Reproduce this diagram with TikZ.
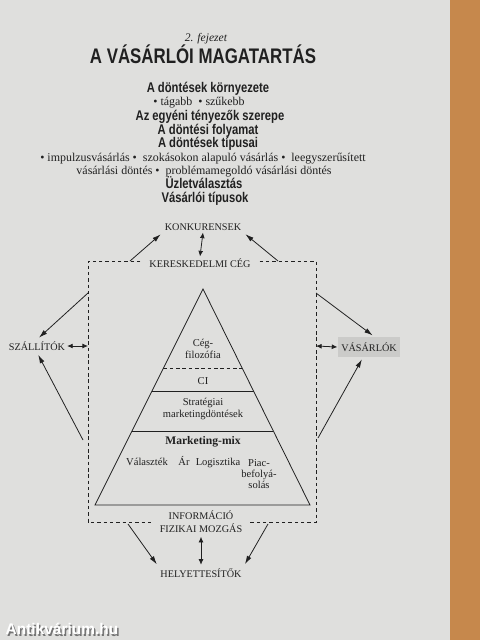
\documentclass[tikz,border=0pt]{standalone}
\usepackage{fontspec}
\setmainfont{Liberation Serif}
\newfontfamily\condfont[FakeStretch=0.8]{Liberation Sans}
\newfontfamily\wmfont{Liberation Sans}
\usetikzlibrary{arrows.meta,calc}

\definecolor{pagegray}{RGB}{223,223,221}
\definecolor{wood}{RGB}{198,136,76}
\definecolor{ink}{RGB}{32,32,32}
\definecolor{marker}{RGB}{203,203,201}

\tikzset{
  hd/.style={font=\condfont\bfseries\fontsize{8}{9}\selectfont, text=ink, inner sep=0pt, anchor=base},
  tx/.style={font=\fontsize{6.8}{8}\selectfont, text=ink, inner sep=0pt, anchor=base},
  lbl/.style={font=\fontsize{5.8}{7.4}\selectfont, text=ink, inner sep=1pt, align=center},
  pyr/.style={font=\fontsize{6}{6.8}\selectfont, text=ink, align=center, inner sep=0pt},
  arr/.style={-{Latex[length=4.8pt,width=2.8pt]}, line width=0.45pt, draw=ink, shorten >=1.5pt},
  darr/.style={{Latex[length=3.2pt,width=2.8pt]}-{Latex[length=3.2pt,width=2.8pt]}, line width=0.45pt, draw=ink},
  cegframe/.style={dash pattern=on 2pt off 1.6pt, line width=0.45pt, draw=ink},
}

\begin{document}
\begin{tikzpicture}[x=0.02cm, y=-0.02cm]
            % page and desk
            \fill[pagegray] (0,0) rectangle (480,640);
            \fill[wood] (450,0) rectangle (480,640);
            \useasboundingbox (0,0) rectangle (480,640);

            % chapter heading
            \node[tx, font=\itshape\fontsize{6.6}{8}\selectfont] (fejezet) at (206,41) {2. fejezet};
            \node[hd, font=\condfont\bfseries\fontsize{12}{14}\selectfont] (cim) at (203,63) {A VÁSÁRLÓI MAGATARTÁS};

            \node[hd] (h1) at (208,92) {A döntések környezete};
            \node[tx] (h2) at (199,105) {• tágabb \ • szűkebb};
            \node[hd] (h3) at (210,120) {Az egyéni tényezők szerepe};
            \node[hd] (h4) at (208,134) {A döntési folyamat};
            \node[hd] (h5) at (208,147) {A döntések típusai};
            \node[tx] (h6) at (203,161) {• impulzusvásárlás • \ szokásokon alapuló vásárlás • \ leegyszerűsített};
            \node[tx] (h7) at (204,174) {vásárlási döntés • \ problémamegoldó vásárlási döntés};
            \node[hd] (h8) at (204,188) {Üzletválasztás};
            \node[hd] (h9) at (205,202) {Vásárlói típusok};

            % actors
            \node[lbl] (konk) at (203,227) {KONKURENSEK};
            \node[lbl, inner xsep=5pt] (keresk) at (200,263) {KERESKEDELMI CÉG};
            \node[lbl] (szall) at (37,346) {SZÁLLÍTÓK};
            \node[lbl, fill=marker, minimum height=11pt, inner xsep=2pt] (vas) at (369,347) {VÁSÁRLÓK};
            \node[lbl, inner xsep=4.5pt] (info) at (201,522) {INFORMÁCIÓ\\FIZIKAI MOZGÁS};
            \node[lbl] (hely) at (201,573) {HELYETTESÍTŐK};

            % dashed frame of the firm
            \coordinate (tl) at (88,261);
            \coordinate (tr) at (316,261);
            \coordinate (bl) at (88,522);
            \coordinate (br) at (316,522);
            \draw[cegframe] (keresk.west |- tl) -- (tl) -- (bl) -- (info.west |- bl);
            \draw[cegframe] (keresk.east |- tr) -- (tr) -- (br) -- (info.east |- br);

            \coordinate (k1) at (130,261);
            \coordinate (k2) at (278,261);
            \coordinate (l1) at (88,293);
            \coordinate (l2) at (83,440);
            \coordinate (sl) at (88,346);
            \coordinate (r1) at (316,293);
            \coordinate (r2) at (318,438);
            \coordinate (sr) at (316,346);
            \coordinate (b1) at (128,524);
            \coordinate (b2) at (268,524);

            \draw[arr] (k1) -- (konk.south west);
            \draw[arr] (k2) -- (konk.south east);
            \draw[darr] (konk.south) -- (keresk.north);

            \draw[arr] (l1) -- (szall.north);
            \draw[arr] (l2) -- (szall.south);
            \draw[darr] (szall.east) -- (sl);

            \draw[arr] (r1) -- (vas.60);
            \draw[arr] (r2) -- (vas.240);
            \draw[darr] (sr) -- (vas.west);

            \draw[arr] (b1) -- (hely.north west);
            \draw[arr] (b2) -- (hely.north east);
            \draw[darr, shorten <=1pt, shorten >=1pt] (info.south) -- (hely.north);

            % pyramid
            \coordinate (apex) at (203,289);
            \coordinate (pl) at (95,505);
            \coordinate (pr) at (310,505);
            \draw[line width=0.45pt, draw=ink] (apex) -- (pl) -- (pr) -- cycle;
            \draw[cegframe] ($(apex)!0.366!(pl)$) -- ($(apex)!0.366!(pr)$);
            \draw[line width=0.45pt, draw=ink] ($(apex)!0.472!(pl)$) -- ($(apex)!0.472!(pr)$);
            \draw[line width=0.45pt, draw=ink] ($(apex)!0.657!(pl)$) -- ($(apex)!0.657!(pr)$);

            \node[pyr] (ceg) at (203,349) {Cég-\\filozófia};
            \node[pyr] (ci) at (203,381) {CI};
            \node[pyr] (strat) at (203,409) {Stratégiai\\marketingdöntések};
            \node[pyr, font=\bfseries\fontsize{6.6}{8}\selectfont] (mmix) at (203,442) {Marketing-mix};
            \node[pyr, anchor=base] (valaszt) at (147,465) {Választék};
            \node[pyr, anchor=base] (ar) at (184,465) {Ár};
            \node[pyr, anchor=base] (logiszt) at (218,465) {Logisztika};
            \node[pyr, font=\fontsize{6}{6.2}\selectfont] (piac) at (259,474) {Piac-\\befolyá-\\solás};

            % watermark
            \node[font=\wmfont\bfseries\fontsize{8.8}{10}\selectfont, text=black!55, inner sep=0pt] (wmshadow) at (63.5,630.5) {Antikvárium.hu};
            \node[font=\wmfont\bfseries\fontsize{8.8}{10}\selectfont, text=white, inner sep=0pt] (wm) at (62,629) {Antikvárium.hu};
\end{tikzpicture}
\end{document}
